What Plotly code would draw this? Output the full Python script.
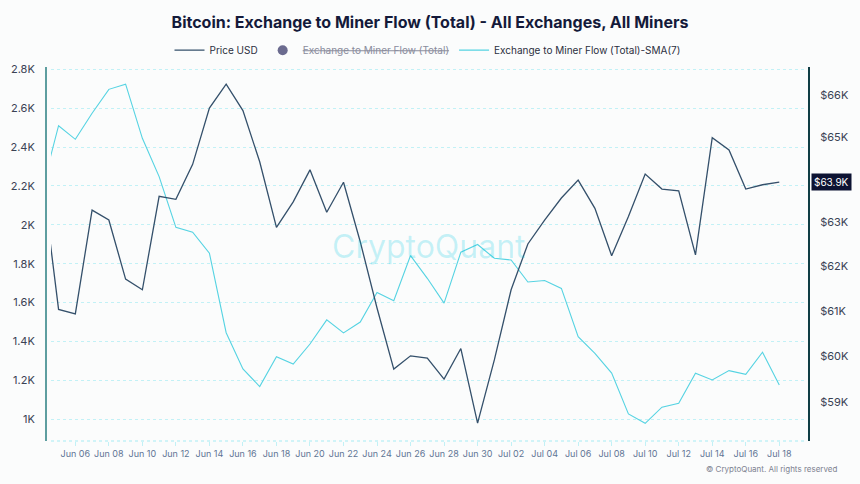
import math
import pandas as pd
import plotly.graph_objects as go

# ---- data ----
dates = pd.date_range("2024-06-04", "2024-07-18", freq="D")

price_usd = [64120, 61030, 60930, 63290, 63060, 61710, 61470, 63610, 63540, 64360,
             65700, 66280, 65640, 64420, 62890, 63480, 64230, 63240, 63940, 62560,
             61060, 59710, 60000, 59950, 59490, 60160, 58540,
             59910, 61470, 62510, 63060, 63570, 63990, 63330, 62240, 63140,
             64130, 63780, 63740, 62260, 64990, 64700, 63780, 63880, 63940]

flow_sma7 = [2177, 2510, 2440, 2574, 2697, 2724, 2445, 2248, 1987, 1962,
             1854, 1445, 1259, 1168, 1322, 1284, 1387, 1511, 1444, 1500,
             1652, 1610, 1842, 1725, 1597, 1859, 1899,
             1828, 1819, 1706, 1714, 1673, 1425, 1339, 1237, 1027,
             979, 1062, 1082, 1237, 1202, 1250, 1231, 1345, 1176]

# hidden series in the reference (toggled off) - no values visible
flow_total = [None] * len(dates)

left_tickvals = [1000, 1200, 1400, 1600, 1800, 2000, 2200, 2400, 2600, 2800]
left_ticktext = ["1K", "1.2K", "1.4K", "1.6K", "1.8K", "2K", "2.2K", "2.4K", "2.6K", "2.8K"]
right_tickvals = [59000, 60000, 61000, 62000, 63000, 65000, 66000]
right_ticktext = ["$59K", "$60K", "$61K", "$62K", "$63K", "$65K", "$66K"]
last_label = "$63.9K"

FONT = "Inter, Roboto, sans-serif"
PRICE_C = "#34506b"
SMA_C = "#55d3e2"
GRID_C = "#c2f1f6"

fig = go.Figure()
fig.add_trace(go.Scatter(x=dates, y=price_usd, name="Price USD", mode="lines",
                         line=dict(color=PRICE_C, width=1.3), yaxis="y2"))
fig.add_trace(go.Scatter(x=dates, y=flow_total,
                         name="<span style='color:#8a8c9c'><s>Exchange to Miner Flow (Total)</s></span>",
                         mode="markers", marker=dict(color="#6b6b8f", size=10), yaxis="y"))
fig.add_trace(go.Scatter(x=dates, y=flow_sma7, name="Exchange to Miner Flow (Total)-SMA(7)",
                         mode="lines", line=dict(color=SMA_C, width=1.1), yaxis="y"))

fig.update_layout(
    width=860, height=484,
    margin=dict(l=46, r=51, t=67, b=43, autoexpand=False),
    paper_bgcolor="#fbfcfc", plot_bgcolor="#fbfcfc",
    font=dict(family=FONT, size=11, color="#3a4254"),
    showlegend=True,
    title=dict(text="<b>Bitcoin: Exchange to Miner Flow (Total) - All Exchanges, All Miners</b>",
               x=0.5, xanchor="center", y=1 - 22 / 484, yanchor="middle", yref="container",
               font=dict(family=FONT, size=16, color="#141a3a")),
    legend=dict(orientation="h", x=0.5, xanchor="center", y=1.045, yanchor="middle",
                font=dict(family=FONT, size=10, color="#2b2f40"), itemwidth=30,
                bgcolor="rgba(0,0,0,0)"),
    xaxis=dict(domain=[0.00655, 0.99476], type="date",
               range=["2024-06-04 13:10", "2024-07-19 12:50"],
               tick0="2024-06-06", dtick=2 * 86400000, tickformat="%b %d",
               tickangle=0, automargin=False,
               ticks="outside", ticklen=4, tickcolor=GRID_C,
               tickfont=dict(family=FONT, size=9, color="#5f7595"),
               showgrid=False, showline=False, zeroline=False),
    yaxis=dict(range=[888, 2812], anchor="free", position=0, automargin=False,
               tickvals=left_tickvals, ticktext=left_ticktext,
               showgrid=True, gridcolor=GRID_C, griddash="dot", gridwidth=1,
               showline=True, linecolor="#5e9ea0", linewidth=2,
               ticks="", ticklabelstandoff=8, zeroline=False,
               tickfont=dict(family=FONT, size=11, color="#3a4254")),
    yaxis2=dict(type="log", range=[4.7646, 4.8241], overlaying="y", side="right",
                anchor="free", position=1, automargin=False,
                tickvals=right_tickvals, ticktext=right_ticktext,
                showgrid=False, showline=True, linecolor="#0f3d44", linewidth=2,
                ticks="", ticklabelstandoff=8, zeroline=False,
                tickfont=dict(family=FONT, size=11, color="#3a4254")),
    shapes=[dict(type="line", xref="x domain", yref="paper", x0=0, x1=1, y0=0, y1=0,
                 line=dict(color=GRID_C, width=1.5, dash="dot"))],
    annotations=[
        dict(text="CryptoQuant", xref="paper", yref="paper", x=0.502, y=0.521,
             showarrow=False, font=dict(family=FONT, size=32, color="rgba(0,200,225,0.22)")),
        dict(text="© CryptoQuant. All rights reserved", xref="paper", yref="paper",
             x=1.0393, y=-0.0757, xanchor="right", yanchor="middle", showarrow=False,
             font=dict(family=FONT, size=8, color="#7d8290")),
        dict(text=last_label, xref="paper", yref="y2", x=1, y=math.log10(price_usd[-1]),
             xanchor="left", yanchor="middle", xshift=2, showarrow=False,
             bgcolor="#0d1333", borderpad=2,
             font=dict(family=FONT, size=10, color="#ffffff")),
    ],
)

fig.write_html("out.html")
